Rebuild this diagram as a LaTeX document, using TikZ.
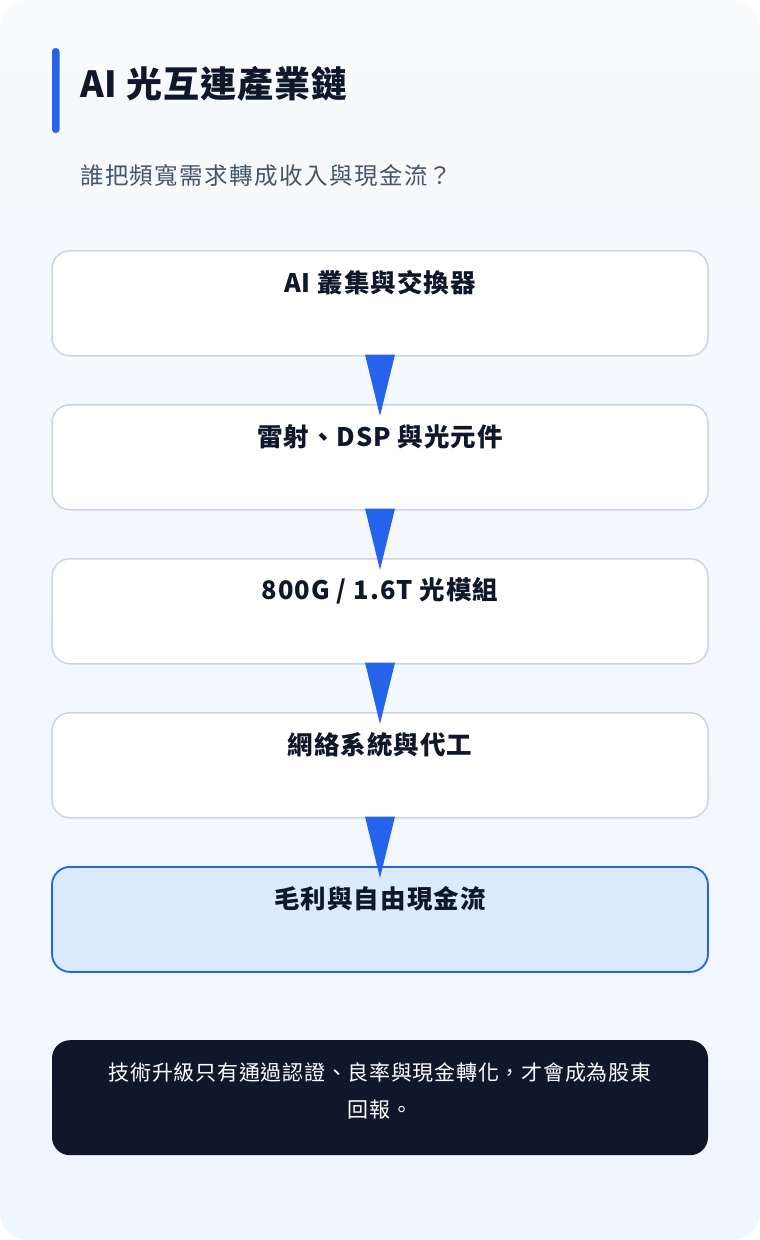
\documentclass[tikz,border=0pt]{standalone}
\usepackage{fontspec}
\setmainfont{Noto Sans CJK TC}
\definecolor{bgA}{HTML}{F8FAFC}
\definecolor{bgB}{HTML}{EFF6FF}
\definecolor{ink}{HTML}{0F172A}
\definecolor{sub}{HTML}{475569}
\definecolor{edge}{HTML}{CBD5E1}
\definecolor{accent}{HTML}{2563EB}
\definecolor{hl}{HTML}{DBEAFE}
\begin{document}
\begin{tikzpicture}[x=1pt,y=-1pt,
  stagebox/.style={draw=edge,line width=1.5pt,fill=white,rounded corners=18pt,
    minimum width=656pt,minimum height=105pt,inner sep=0pt},
  hlbox/.style={stagebox,draw=accent,fill=hl,line width=1.8pt},
  stagelabel/.style={font=\bfseries\fontsize{25.5}{28}\selectfont\addfontfeature{LetterSpace=4},text=ink,anchor=center},
  flowtri/.style={fill=accent,draw=none}
]
\useasboundingbox (0,0) rectangle (760,1240);
\fill[white] (0,0) rectangle (760,1240);
\shade[top color=bgA,bottom color=bgB,rounded corners=28pt] (0,0) rectangle (760,1240);
% title bar
\fill[accent,rounded corners=3.5pt] (52,48) rectangle (59.5,133);
\node[anchor=west,font=\bfseries\fontsize{36}{40}\selectfont\addfontfeature{LetterSpace=2.5},text=ink,inner sep=0pt] (title) at (80,84) {AI 光互連產業鏈};
\node[anchor=west,font=\fontsize{23.5}{26}\selectfont\addfontfeature{LetterSpace=6},text=sub,inner sep=0pt] (subtitle) at (80,176) {誰把頻寬需求轉成收入與現金流？};
% stages
\foreach \i/\y/\t in {1/250/{AI 叢集與交換器},2/404/{雷射、DSP 與光元件},3/558/{800G / 1.6T 光模組},4/712/{網絡系統與代工}}{
  \node[stagebox,anchor=north] (s\i) at (380,\y) {};
  \node[stagelabel] (l\i) at (380,\y+33) {\t};
}
\node[hlbox,anchor=north] (s5) at (380,866) {};
\node[stagelabel] (l5) at (380,899) {毛利與自由現金流};
% arrows
\foreach \a/\b in {1/2,2/3,3/4,4/5}{
  \fill[accent] ([xshift=-15pt,yshift=2pt]s\a.south) -- ([xshift=15pt,yshift=2pt]s\a.south) -- ([yshift=-12pt]s\b.north) -- cycle;
}
% bottom note
\node[fill=ink,rounded corners=18pt,minimum width=656pt,minimum height=115pt,anchor=north] (note) at (380,1040) {};
\node[text=white,font=\fontsize{21}{37}\selectfont\addfontfeature{LetterSpace=3.5},align=center,anchor=center] (notetext) at (380,1091) {技術升級只有通過認證、良率與現金轉化，才會成為股東\\回報。};
\end{tikzpicture}
\end{document}
